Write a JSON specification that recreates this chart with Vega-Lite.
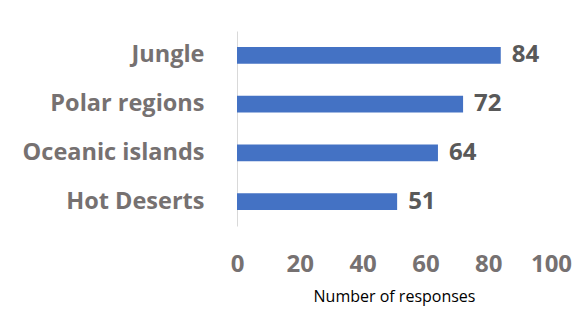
{
  "$schema": "https://vega.github.io/schema/vega-lite/v6.json",
  "autosize": {"type": "none"},
  "width": 314,
  "height": 195,
  "padding": {"left": 237, "top": 31, "right": 30, "bottom": 96},
  "background": "white",
  "config": {"view": {"stroke": null}, "font": "Open Sans"},
  "data": {"values": [
    {"region": "Jungle", "responses": 84},
    {"region": "Polar regions", "responses": 72},
    {"region": "Oceanic islands", "responses": 64},
    {"region": "Hot Deserts", "responses": 51}
  ]},
  "encoding": {
    "y": {"field": "region", "type": "nominal", "sort": null,
      "scale": {"paddingInner": 0.66, "paddingOuter": 0.33},
      "axis": {"title": null, "ticks": false, "domainColor": "#d9d9d9", "domainWidth": 1,
        "labelFont": "Open Sans", "labelFontWeight": "bold", "labelFontSize": 23.5, "labelColor": "#767171", "labelPadding": 33, "labelLimit": 300}},
    "x": {"field": "responses", "type": "quantitative",
      "scale": {"domain": [0, 100], "nice": false},
      "axis": {"values": [0, 20, 40, 60, 80, 100], "grid": false, "domain": false, "ticks": false, "labelFlush": false,
        "labelFont": "Open Sans", "labelFontWeight": "bold", "labelFontSize": 24, "labelColor": "#767171", "labelPadding": 26,
        "title": "Number of responses", "titleFont": "Open Sans", "titleFontWeight": "normal", "titleFontSize": 16, "titleColor": "#000000", "titlePadding": 12}}
  },
  "layer": [
    {"mark": {"type": "bar", "color": "#4472C4"}},
    {"mark": {"type": "text", "align": "left", "baseline": "middle", "dx": 11, "font": "Open Sans", "fontWeight": "bold", "fontSize": 24, "color": "#595959"},
     "encoding": {"text": {"field": "responses", "type": "quantitative"}}}
  ]
}
